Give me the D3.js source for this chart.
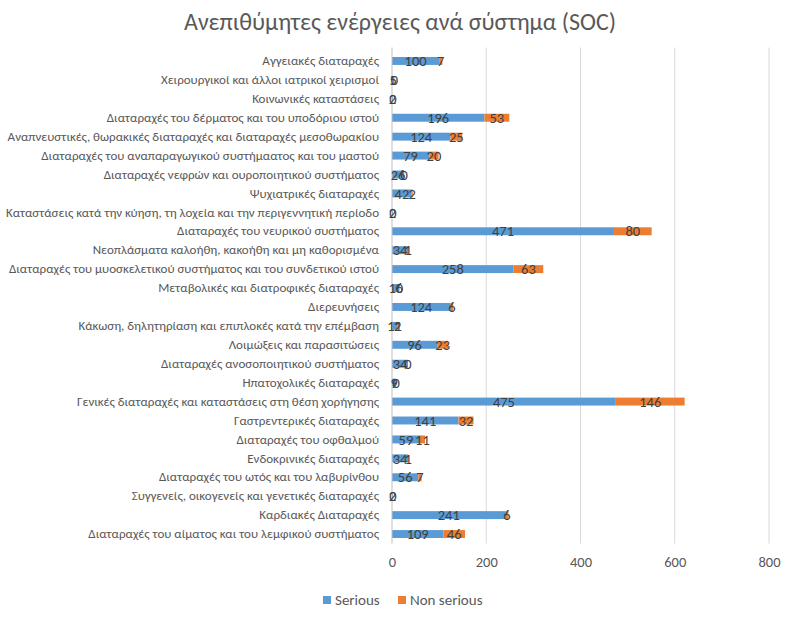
<!DOCTYPE html>
<html><head><meta charset="utf-8">
<script src="https://cdn.jsdelivr.net/npm/d3@7"></script>
<style>body{margin:0;background:#fff;}svg{display:block;}</style>
</head><body>
<svg id="c" width="800" height="624"></svg>
<script>
const categories = [
"Αγγειακές διαταραχές",
"Χειρουργικοί και άλλοι ιατρικοί χειρισμοί",
"Κοινωνικές καταστάσεις",
"Διαταραχές του δέρματος και του υποδόριου ιστού",
"Αναπνευστικές, θωρακικές διαταραχές και διαταραχές μεσοθωρακίου",
"Διαταραχές του αναπαραγωγικού συστήμαατος και του μαστού",
"Διαταραχές νεφρών και ουροποιητικού συστήματος",
"Ψυχιατρικές διαταραχές",
"Καταστάσεις κατά την κύηση, τη λοχεία και την περιγεννητική περίοδο",
"Διαταραχές του νευρικού συστήματος",
"Νεοπλάσματα καλοήθη, κακοήθη και μη καθορισμένα",
"Διαταραχές του μυοσκελετικού συστήματος και του συνδετικού ιστού",
"Μεταβολικές και διατροφικές διαταραχές",
"Διερευνήσεις",
"Κάκωση, δηλητηρίαση και επιπλοκές κατά την επέμβαση",
"Λοιμώξεις και παρασιτώσεις",
"Διαταραχές ανοσοποιητικού συστήματος",
"Ηπατοχολικές διαταραχές",
"Γενικές διαταραχές και καταστάσεις στη θέση χορήγησης",
"Γαστρεντερικές διαταραχές",
"Διαταραχές του οφθαλμού",
"Ενδοκρινικές διαταραχές",
"Διαταραχές του ωτός και του λαβυρίνθου",
"Συγγενείς, οικογενείς και γενετικές διαταραχές",
"Καρδιακές Διαταραχές",
"Διαταραχές του αίματος και του λεμφικού συστήματος"
];
const serious    = [100,5,2,196,124,79,26,42,2,471,34,258,16,124,11,96,34,9,475,141,59,34,56,2,241,109];
const nonSerious = [7,0,0,53,25,20,0,2,0,80,1,63,0,6,2,23,0,0,146,32,11,1,7,0,6,46];
const seriesNames = ["Serious","Non serious"];
const colors = ["#5B9BD5","#ED7D31"];
const xTicks = [0,200,400,600,800];

const svg = d3.select("#c");
const font = "Calibri, Carlito, 'Open Sans', sans-serif";
const m = {left:392, right:769, top:51.5, bottom:543.5};

const x = d3.scaleLinear().domain([0,800]).range([m.left, m.right]);
const y = d3.scaleBand().domain(categories).range([m.top, m.bottom]).paddingInner(0.58).paddingOuter(0.29);

svg.append("text").attr("x",400).attr("y",30).attr("text-anchor","middle")
  .attr("font-family",font).attr("font-size",24).attr("fill","#595959")
  .text("Ανεπιθύμητες ενέργειες ανά σύστημα (SOC)");

// gridlines
svg.append("g").selectAll("line").data(xTicks.slice(1)).join("line")
  .attr("x1",d=>x(d)).attr("x2",d=>x(d)).attr("y1",m.top-4).attr("y2",m.bottom)
  .attr("stroke","#d9d9d9").attr("stroke-width",1);

const rows = categories.map((c,i)=>({c, s:serious[i], n:nonSerious[i]}));

// bars
const g = svg.append("g");
g.selectAll("rect.s").data(rows).join("rect").attr("class","s")
  .attr("x",x(0)).attr("y",d=>y(d.c)).attr("width",d=>x(d.s)-x(0)).attr("height",y.bandwidth())
  .attr("fill",colors[0]);
g.selectAll("rect.n").data(rows).join("rect").attr("class","n")
  .attr("x",d=>x(d.s)).attr("y",d=>y(d.c)).attr("width",d=>x(d.s+d.n)-x(d.s)).attr("height",y.bandwidth())
  .attr("fill",colors[1]);

// axis line at 0
svg.append("line").attr("x1",x(0)).attr("x2",x(0)).attr("y1",m.top-4).attr("y2",m.bottom)
  .attr("stroke","#bfbfbf");

// category labels
const yAxis = svg.append("g").attr("transform",`translate(${x(0)},0)`)
  .call(d3.axisLeft(y).tickSize(0).tickPadding(13));
yAxis.select(".domain").remove();
yAxis.selectAll("text").attr("font-family",font).attr("font-size",13).attr("fill","#595959");

// x axis labels
const xAxis = svg.append("g").attr("transform",`translate(0,${m.bottom})`)
  .call(d3.axisBottom(x).tickValues(xTicks).tickSize(0).tickPadding(13));
xAxis.select(".domain").remove();
xAxis.selectAll("text").attr("font-family",font).attr("font-size",14.5).attr("fill","#595959");

// data labels
const lab = svg.append("g").attr("font-family",font).attr("font-size",14.5).attr("fill","#404040").attr("text-anchor","middle");
lab.selectAll("text.s").data(rows).join("text").attr("class","s")
  .attr("x",d=>x(d.s/2)).attr("y",d=>y(d.c)+y.bandwidth()/2).attr("dy","0.36em").text(d=>d.s);
lab.selectAll("text.n").data(rows).join("text").attr("class","n")
  .attr("x",d=>x(d.s+d.n/2)).attr("y",d=>y(d.c)+y.bandwidth()/2).attr("dy","0.36em").text(d=>d.n);

// legend
const leg = svg.append("g").attr("font-family",font).attr("font-size",15).attr("fill","#595959");
const legX = [323, 398];
seriesNames.forEach((s,i)=>{
  leg.append("rect").attr("x",legX[i]).attr("y",596).attr("width",8).attr("height",8).attr("fill",colors[i]);
  leg.append("text").attr("x",legX[i]+12).attr("y",605).text(s);
});
</script>
</body></html>
